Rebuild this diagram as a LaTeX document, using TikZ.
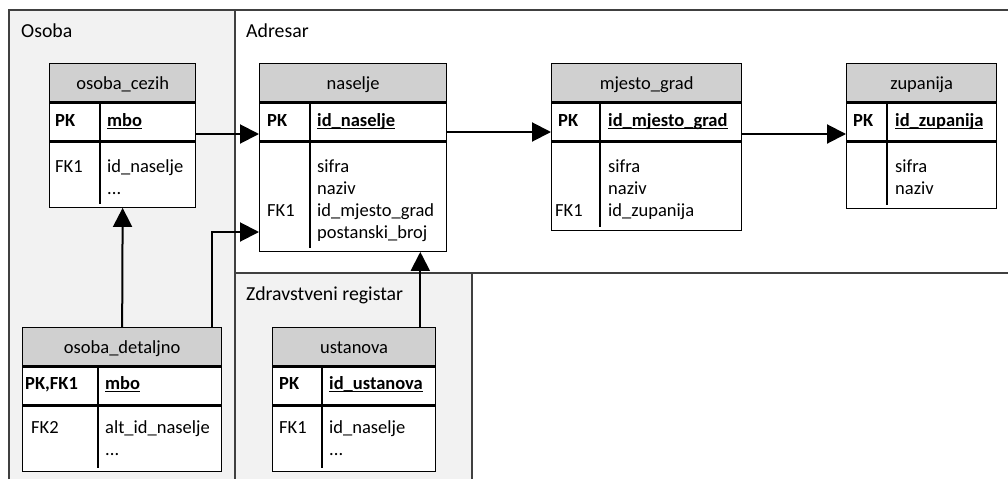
\documentclass[tikz,border=0pt]{standalone}
\usepackage{fontspec}
\setmainfont{Carlito}
\usetikzlibrary{arrows.meta}

\definecolor{panelfill}{HTML}{F2F2F2}
\definecolor{headfill}{HTML}{D0D0D0}
\definecolor{panelline}{HTML}{404040}

% bold, underlined primary key field
\newcommand\keyfield[1]{\setbox0\hbox{\bfseries #1}\rlap{\rule[-2.8pt]{\wd0}{1.2pt}}\box0}

% one entity box: name, title, left x, divider x, right x, top y, bottom y
\newcommand\ertable[7]{%
  \node[tablehead, minimum width={(#5-#3)*1pt}] (#1-h) at (#3,#6) {#2};
  \node[tablerow, minimum width={(#5-#3)*1pt}, minimum height=38pt] (#1-k) at (#1-h.south west) {};
  \node[tablerow, minimum width={(#5-#3)*1pt}, minimum height={(#7-#6-76)*1pt}] (#1-b) at (#1-k.south west) {};
  \draw[tableline] (#4,#6+38) -- (#4,#7);
}

\begin{document}
\begin{tikzpicture}[x=1pt,y=-1pt,
  font=\fontsize{18.5}{22}\selectfont,
  paneltext/.style={font=\fontsize{19.8}{24}\selectfont, anchor=base west, inner sep=0pt},
  tablehead/.style={draw=black, line width=1.3pt, fill=headfill, anchor=north west,
    minimum height=38pt, inner sep=0pt, text height=13pt, text depth=0pt},
  tablerow/.style={draw=black, line width=1.3pt, fill=white, anchor=north west, inner sep=0pt},
  tableline/.style={draw=black, line width=1.3pt},
  cell/.style={anchor=base west, inner sep=0pt},
  keycell/.style={anchor=base west, inner sep=0pt, font=\fontsize{18.5}{22}\selectfont\bfseries},
  panelborder/.style={draw=panelline, line width=1.3pt},
  conn/.style={draw=black, line width=2pt, -{Triangle[length=19pt,width=19pt]}}
]
\useasboundingbox (0,0) rectangle (1008,479);

% subject areas
\fill[panelfill] (9,10) rectangle (235,479);
\fill[panelfill] (235,273) rectangle (472,479);
\draw[panelborder] (9,479) -- (9,10) -- (1008,10);
\draw[panelborder] (235,10) -- (235,479);
\draw[panelborder] (235,273) -- (1008,273);
\draw[panelborder] (472,273) -- (472,479);
\node[paneltext] (lblosoba) at (21,37) {Osoba};
\node[paneltext] (lbladresar) at (246,37) {Adresar};
\node[paneltext] (lblzdrav) at (246,300) {Zdravstveni registar};

% entities
\ertable{cezih}{osoba\_cezih}{49}{100}{195}{63}{204}
\node[keycell] (cezih-pk) at (55,126) {PK};
\node[cell] (cezih-pkf) at (107,126) {\keyfield{mbo}};
\node[cell] (cezih-fk) at (55,172) {FK1};
\node[cell] (cezih-f1) at (107,172) {id\_naselje};
\node[cell] (cezih-f2) at (107,194) {...};

\ertable{naselje}{naselje}{259}{310}{446}{63}{248}
\node[keycell] (naselje-pk) at (267,126) {PK};
\node[cell] (naselje-pkf) at (317,126) {\keyfield{id\_naselje}};
\node[cell] (naselje-f1) at (317,172) {sifra};
\node[cell] (naselje-f2) at (317,194) {naziv};
\node[cell] (naselje-fk) at (267,216) {FK1};
\node[cell] (naselje-f3) at (317,216) {id\_mjesto\_grad};
\node[cell] (naselje-f4) at (317,238) {postanski\_broj};

\ertable{mjesto}{mjesto\_grad}{551}{600}{741}{63}{227}
\node[keycell] (mjesto-pk) at (558,126) {PK};
\node[cell] (mjesto-pkf) at (608,126) {\keyfield{id\_mjesto\_grad}};
\node[cell] (mjesto-f1) at (608,172) {sifra};
\node[cell] (mjesto-f2) at (608,194) {naziv};
\node[cell] (mjesto-fk) at (555,216) {FK1};
\node[cell] (mjesto-f3) at (608,216) {id\_zupanija};

\ertable{zupanija}{zupanija}{846}{887}{996}{63}{205}
\node[keycell] (zupanija-pk) at (853,126) {PK};
\node[cell] (zupanija-pkf) at (895,126) {\keyfield{id\_zupanija}};
\node[cell] (zupanija-f1) at (895,172) {sifra};
\node[cell] (zupanija-f2) at (895,194) {naziv};

\ertable{det}{osoba\_detaljno}{22}{98}{221}{327}{468}
\node[keycell] (det-pk) at (25,389) {PK,FK1};
\node[cell] (det-pkf) at (105,389) {\keyfield{mbo}};
\node[cell] (det-fk) at (31,433) {FK2};
\node[cell] (det-f1) at (105,433) {alt\_id\_naselje};
\node[cell] (det-f2) at (105,455) {...};

\ertable{ust}{ustanova}{272}{322}{435}{327}{468}
\node[keycell] (ust-pk) at (279,389) {PK};
\node[cell] (ust-pkf) at (329,389) {\keyfield{id\_ustanova}};
\node[cell] (ust-fk) at (279,433) {FK1};
\node[cell] (ust-f1) at (329,433) {id\_naselje};
\node[cell] (ust-f2) at (329,455) {...};

% relationships
\coordinate (r1) at (0,134);
\coordinate (r2) at (0,132);
\coordinate (r3) at (0,134);
\coordinate (r5) at (0,232);
\draw[conn] (cezih-k.east |- r1) -- (naselje-k.west |- r1);
\draw[conn] (naselje-k.east |- r2) -- (mjesto-k.west |- r2);
\draw[conn] (mjesto-k.east |- r3) -- (zupanija-k.west |- r3);
\draw[conn] (det-h.north) -- (cezih-b.south);
\coordinate (detup) at ([xshift=-10pt]det-h.north east);
\draw[conn] (detup) |- (naselje-b.west |- r5);
\coordinate (ustup) at ([xshift=-16pt]ust-h.north east);
\draw[conn] (ustup) -- (ustup |- naselje-b.south);
\end{tikzpicture}
\end{document}
